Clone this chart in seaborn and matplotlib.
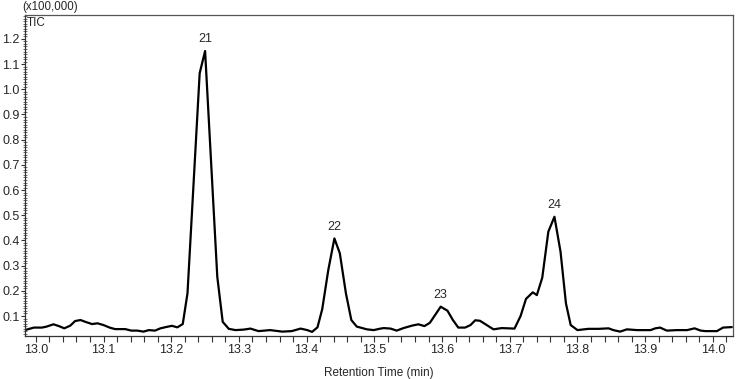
import matplotlib
matplotlib.use("Agg")
import matplotlib.pyplot as plt
import seaborn as sns
import pandas as pd
import numpy as np
from matplotlib.ticker import MultipleLocator, FormatStrFormatter

# Retention time (min) and TIC intensity (x100,000)
rt = [12.984, 12.997, 13.009, 13.016, 13.026, 13.034, 13.042, 13.051, 13.058, 13.066,
      13.073, 13.083, 13.091, 13.100, 13.109, 13.117, 13.132, 13.141, 13.150, 13.159,
      13.167, 13.176, 13.184, 13.192, 13.201, 13.209, 13.217, 13.224, 13.242, 13.250,
      13.268, 13.276, 13.285, 13.295, 13.307, 13.317, 13.329, 13.346, 13.364, 13.378,
      13.391, 13.401, 13.408, 13.416, 13.423, 13.432, 13.441, 13.449, 13.458, 13.466,
      13.474, 13.489, 13.499, 13.509, 13.514, 13.524, 13.533, 13.543, 13.556, 13.565,
      13.574, 13.582, 13.598, 13.608, 13.616, 13.624, 13.634, 13.642, 13.649, 13.656,
      13.666, 13.676, 13.688, 13.698, 13.707, 13.716, 13.724, 13.734, 13.740, 13.748,
      13.757, 13.766, 13.775, 13.783, 13.790, 13.800, 13.816, 13.831, 13.846, 13.853,
      13.863, 13.873, 13.888, 13.908, 13.915, 13.922, 13.932, 13.947, 13.962, 13.973,
      13.982, 13.989, 14.006, 14.015, 14.028]
tic = [0.044, 0.054, 0.054, 0.058, 0.067, 0.060, 0.051, 0.062, 0.080, 0.084,
       0.077, 0.068, 0.071, 0.064, 0.054, 0.048, 0.048, 0.042, 0.042, 0.038,
       0.044, 0.042, 0.051, 0.056, 0.061, 0.055, 0.068, 0.190, 1.064, 1.152,
       0.256, 0.077, 0.049, 0.044, 0.046, 0.050, 0.040, 0.044, 0.038, 0.040,
       0.050, 0.044, 0.037, 0.055, 0.127, 0.283, 0.408, 0.349, 0.190, 0.084,
       0.058, 0.047, 0.044, 0.050, 0.052, 0.050, 0.042, 0.052, 0.062, 0.067,
       0.060, 0.073, 0.137, 0.121, 0.084, 0.054, 0.054, 0.064, 0.083, 0.081,
       0.064, 0.047, 0.052, 0.051, 0.050, 0.100, 0.168, 0.194, 0.183, 0.252,
       0.435, 0.494, 0.355, 0.150, 0.064, 0.044, 0.049, 0.049, 0.051, 0.044,
       0.038, 0.047, 0.044, 0.044, 0.051, 0.054, 0.042, 0.044, 0.044, 0.051,
       0.042, 0.040, 0.040, 0.054, 0.056]

peak_labels = ["21", "22", "23", "24"]
peak_rt = [13.250, 13.441, 13.598, 13.766]
peak_top = [1.152, 0.408, 0.137, 0.494]

sns.set_style("ticks")
plt.rcParams['font.family'] = ['Liberation Sans', 'DejaVu Sans']
plt.rcParams['font.size'] = 8

fig = plt.figure(figsize=(7.37, 3.79), dpi=100)
ax = fig.add_axes([25/737, 1 - 336/379, (732.5 - 25)/737, (336 - 15)/379])

df = pd.DataFrame({"rt": rt, "tic": tic})
sns.lineplot(data=df, x="rt", y="tic", ax=ax, color="black", lw=1.6,
             sort=False, estimator=None)

for lab, x, y in zip(peak_labels, peak_rt, peak_top):
    ax.annotate(lab, (x, y), xytext=(0, 4), textcoords="offset points",
                ha="center", va="bottom", fontsize=9)

ax.set_xlim(12.984, 14.029)
ax.set_ylim(0.0206, 1.295)
ax.xaxis.set_major_locator(MultipleLocator(0.1))
ax.xaxis.set_minor_locator(MultipleLocator(0.02))
ax.xaxis.set_major_formatter(FormatStrFormatter("%.1f"))
ax.yaxis.set_major_locator(MultipleLocator(0.1))
ax.yaxis.set_minor_locator(MultipleLocator(0.01))
ax.yaxis.set_major_formatter(FormatStrFormatter("%.1f"))
ax.set_yticks([v / 10 for v in range(1, 13)])

ax.tick_params(axis="both", which="major", labelsize=9, color="#333333", width=0.8)
ax.tick_params(axis="x", which="major", direction="out", length=4, pad=2)
ax.tick_params(axis="x", which="minor", direction="out", length=4, width=0.8, color="#333333")
ax.tick_params(axis="y", which="major", direction="out", length=3, pad=1)
ax.tick_params(axis="y", which="minor", direction="inout", length=2.5, width=0.6, color="#555555")

for side in ["top", "right", "left", "bottom"]:
    ax.spines[side].set_visible(True)
    ax.spines[side].set_linewidth(0.9)
ax.spines["top"].set_color("#555555")
ax.spines["right"].set_color("#555555")
ax.spines["left"].set_color("#333333")
ax.spines["bottom"].set_color("#333333")

ax.set_xlabel("Retention Time (min)", fontsize=8.5, labelpad=8)
ax.set_ylabel("")
ax.text(0.003, 0.995, "TIC", transform=ax.transAxes, ha="left", va="top", fontsize=8.5)
fig.text(22/737, 1 - 7/379, "(x100,000)", ha="left", va="center", fontsize=8.3)

fig.savefig("out.png", dpi=100)
